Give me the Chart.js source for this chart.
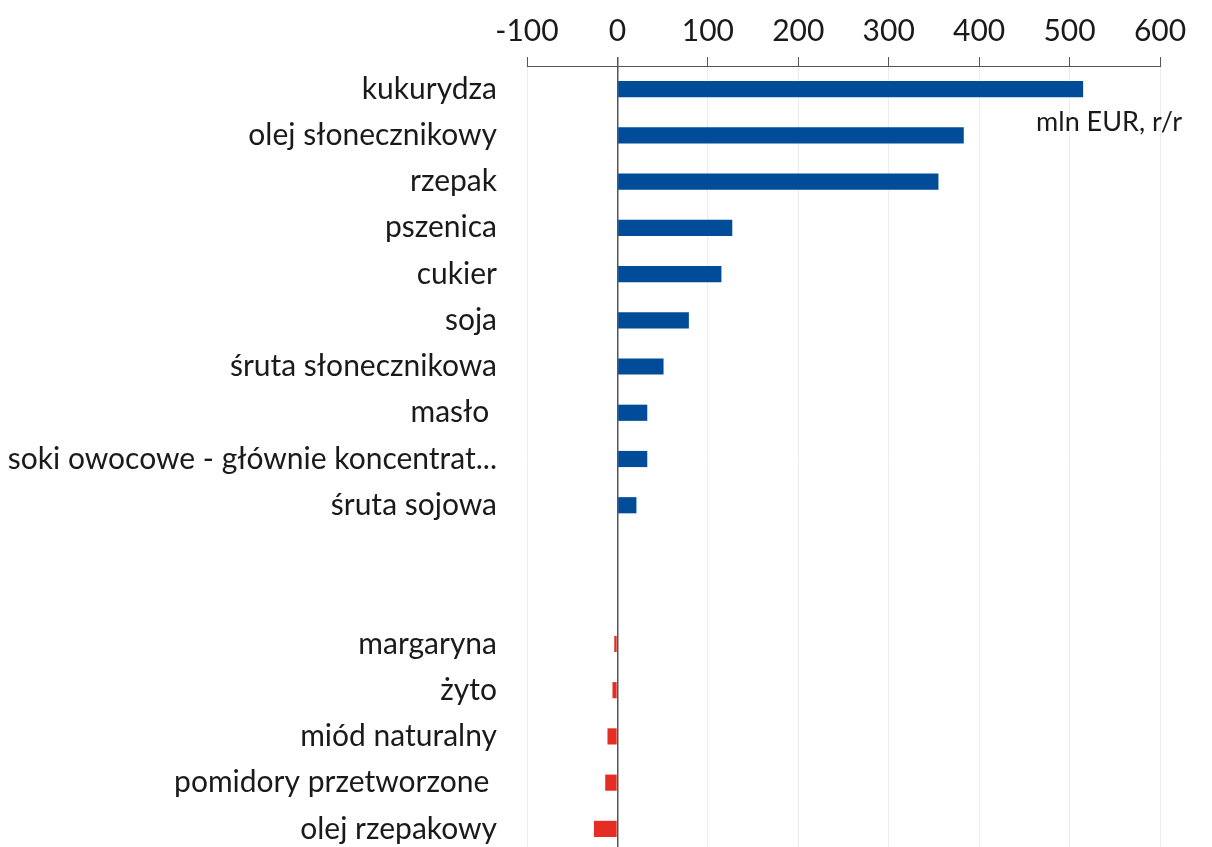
<!DOCTYPE html>
<html>
<head>
<meta charset="utf-8">
<script src="https://cdn.jsdelivr.net/npm/chart.js@4/dist/chart.umd.min.js"></script>
<style>
  html, body { margin: 0; padding: 0; background: #fff; overflow: hidden; }
  #wrap { position: relative; width: 1212px; height: 900px; }
</style>
</head>
<body>
<div id="wrap"><canvas id="chart"></canvas></div>
<script>
const categories = [
    "kukurydza",
    "olej słonecznikowy",
    "rzepak",
    "pszenica",
    "cukier",
    "soja",
    "śruta słonecznikowa",
    "masło ",
    "soki owocowe - głównie koncentrat...",
    "śruta sojowa",
    "",
    "",
    "margaryna",
    "żyto",
    "miód naturalny",
    "pomidory przetworzone ",
    "olej rzepakowy"
];
const values = [515, 383, 355, 127, 115, 79, 51, 33, 33, 21, null, null, -3.5, -5.5, -11, -13.5, -26];
const xTicks = [-100, 0, 100, 200, 300, 400, 500, 600];
const unitLabel = "mln EUR, r/r";

const FONT = "Lato, 'Open Sans', sans-serif";

// unit caption under the top-right corner
const unitPlugin = {
    id: "unitLabel",
    afterDraw(chart) {
        const ctx = chart.ctx;
        ctx.save();
        ctx.font = "27px " + FONT;
        ctx.fillStyle = "#1a1a1a";
        ctx.textAlign = "right";
        ctx.textBaseline = "middle";
        ctx.fillText(unitLabel, chart.width - 30, chart.chartArea.top + 56);
        ctx.restore();
    }
};

const ctx = document.getElementById("chart").getContext("2d");
new Chart(ctx, {
    type: "bar",
    data: {
        labels: categories,
        datasets: [{
            data: values,
            backgroundColor: values.map(v => v < 0 ? "#e52e23" : "#004c99"),
            barPercentage: 0.7,
            categoryPercentage: 0.5
        }]
    },
    options: {
        indexAxis: "y",
        responsive: true,
        maintainAspectRatio: false,
        animation: false,
        layout: { padding: { top: 0, right: 52, bottom: 0, left: 0 } },
        plugins: {
            legend: { display: false },
            tooltip: { enabled: false }
        },
        scales: {
            x: {
                position: "top",
                min: -100,
                max: 600,
                afterBuildTicks: s => { s.ticks = xTicks.map(v => ({ value: v })); },
                afterFit: s => { s.height = 66; },
                ticks: {
                    color: "#1a1a1a",
                    font: { family: FONT, size: 30 },
                    padding: 8
                },
                grid: {
                    color: c => c.tick && c.tick.value === 0 ? "#555" : "#ececec",
                    lineWidth: c => c.tick && c.tick.value === 0 ? 1.5 : 1,
                    tickColor: "#555",
                    tickLength: 9
                },
                border: { display: true, color: "#555", width: 1 }
            },
            y: {
                afterFit: s => { s.width = 527; },
                ticks: {
                    color: "#1a1a1a",
                    font: { family: FONT, size: 30 },
                    padding: 30,
                    autoSkip: false
                },
                grid: { display: false, drawTicks: false },
                border: { display: false }
            }
        }
    },
    plugins: [unitPlugin]
});
</script>
</body>
</html>
